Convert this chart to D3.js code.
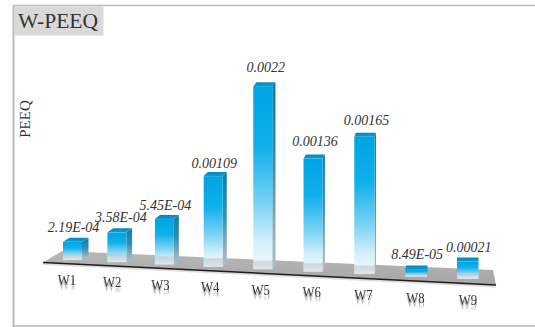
<!DOCTYPE html>
<html>
<head>
<meta charset="utf-8">
<title>W-PEEQ</title>
<script src="https://cdnjs.cloudflare.com/ajax/libs/d3/7.8.5/d3.min.js"></script>
<style>
  html, body { margin: 0; padding: 0; background: #fff; }
  svg { display: block; }
  text { font-family: "Liberation Serif", "Times New Roman", serif; }
</style>
</head>
<body>
<svg id="chart" width="535" height="327"></svg>
<script>
// Chart content
const chartTitle = "W-PEEQ";
const axisTitle = "PEEQ";
const categories = ["W1", "W2", "W3", "W4", "W5", "W6", "W7", "W8", "W9"];
const values = [2.19e-4, 3.58e-4, 5.45e-4, 0.00109, 0.0022, 0.00136, 0.00165, 8.49e-5, 0.00021];
const valueLabels = ["2.19E-04", "3.58E-04", "5.45E-04", "0.00109", "0.0022", "0.00136", "0.00165", "8.49E-05", "0.00021"];

// Layout tweaks for the value labels (px above the bar, px right of its centre)
const labelLift = [6, 6, 5, 4, 10, 8, 8, 6, 6];
const labelShift = [1, 4, 1, 1, 3, 2, 2, 1, 1];

const svg = d3.select("#chart");
const defs = svg.append("defs");

// Perspective placement along the tilted floor
const index = categories.map((_, i) => i);
const xBar = d3.scalePow().exponent(1.05).domain([0, 8]).range([63, 457]);
const xCategory = xBar.copy().range([67, 468]);
const barWidth = d3.scaleLinear().domain([0, 5, 7]).range([19, 19, 21.5]).clamp(true);
const baseline = d3.scaleLinear().domain([63, 457]).range([260, 279]);
const sideDepth = d3.scaleLinear().domain([63, 440]).range([6.5, 0]).clamp(true);
const frontEdge = d3.scaleLinear().domain([43, 496]).range([262.5, 285]);
const backEdge = d3.scaleLinear().domain([62, 493]).range([251, 270]);
const barHeight = d3.scaleLinear().domain([0, 0.0022]).range([0, 183]);
const topDepth = 4;

function linearGradient(id, stops, x2 = 0, y2 = 1) {
  const g = defs.append("linearGradient").attr("id", id)
    .attr("x1", 0).attr("y1", 0).attr("x2", x2).attr("y2", y2);
  stops.forEach(s => g.append("stop")
    .attr("offset", s[0]).attr("stop-color", s[1]).attr("stop-opacity", s[2] ?? 1));
}

linearGradient("frontFill", [
  [0, "#00a4e2"], [0.33, "#0db0ea"], [0.64, "#79d2f5"], [0.85, "#d3f0fb"], [1, "#f0fafd"]
]);
linearGradient("sideFill", [
  [0, "#0b7ea8"], [0.45, "#2f8fb3"], [0.8, "#8fb0bd"], [1, "#b4bec3"]
]);
linearGradient("topFill", [[0, "#0786b8"], [1, "#0a9dd4"]]);
linearGradient("floorFill", [[0, "#b8b8b8"], [1, "#a6a6a6"]]);
linearGradient("footFill", [[0, "#c4c9cb", 0.25], [0.2, "#b9bfc2", 0.55], [1, "#d8dcde", 0.65]]);

// Soft smear under the category labels
const smear = defs.append("filter").attr("id", "labelSmear")
  .attr("x", "-20%").attr("y", "-20%").attr("width", "140%").attr("height", "170%");
smear.append("feGaussianBlur").attr("in", "SourceAlpha").attr("stdDeviation", "0.4 1").attr("result", "soft");
smear.append("feOffset").attr("in", "soft").attr("dy", 4).attr("result", "moved");
smear.append("feFlood").attr("flood-color", "#444").attr("flood-opacity", 0.45);
smear.append("feComposite").attr("in2", "moved").attr("operator", "in").attr("result", "shade");
const smearMerge = smear.append("feMerge");
smearMerge.append("feMergeNode").attr("in", "shade");
smearMerge.append("feMergeNode").attr("in", "SourceGraphic");

// Frame: the chart area is open on the right
const frame = svg.append("g").attr("stroke", "#b9b9b9").attr("fill", "none");
frame.append("line").attr("x1", 13.5).attr("x2", 535).attr("y1", 5.5).attr("y2", 5.5).attr("stroke-width", 1.5);
frame.append("line").attr("x1", 13.5).attr("x2", 535).attr("y1", 326).attr("y2", 326).attr("stroke-width", 1.5);
frame.append("line").attr("x1", 13.5).attr("x2", 13.5).attr("y1", 5).attr("y2", 327).attr("stroke-width", 2);

// Title plate
svg.append("rect").attr("x", 14.5).attr("y", 6.5).attr("width", 89).attr("height", 29).attr("fill", "#d9d9d9");
svg.append("text").attr("x", 18).attr("y", 27.5)
  .attr("font-size", 21.5).attr("fill", "#333").text(chartTitle);

// Axis title
svg.append("text")
  .attr("transform", "translate(30,119) rotate(-90)")
  .attr("text-anchor", "middle").attr("font-size", 15).attr("fill", "#333")
  .text(axisTitle);

// Floor slab
const floorLine = d3.line();
svg.append("path")
  .attr("d", floorLine([
    [43, frontEdge(43)], [62, backEdge(62)], [493, backEdge(493)], [496, frontEdge(496)]
  ]) + "Z")
  .attr("fill", "url(#floorFill)");
svg.append("path")
  .attr("d", floorLine([[43, frontEdge(43) + 1.5], [496, frontEdge(496) + 1.5]]))
  .attr("stroke", "#bbb").attr("stroke-width", 2).attr("opacity", 0.5);
svg.append("path")
  .attr("d", floorLine([[43, frontEdge(43)], [496, frontEdge(496)]]))
  .attr("stroke", "#1c1c1c").attr("stroke-width", 1.5).attr("fill", "none");

// Bars: front, side and top faces
const bars = svg.append("g").selectAll("g").data(index).join("g");

const geom = i => {
  const x0 = xBar(i), w = barWidth(i), y1 = baseline(x0), h = barHeight(values[i]);
  return { x0, x1: x0 + w, w, y1, y0: y1 - h, h, d: sideDepth(x0) };
};

bars.append("path")
  .attr("d", i => {
    const g = geom(i);
    return floorLine([
      [g.x1, g.y0], [g.x1 + g.d, g.y0 - topDepth], [g.x1 + g.d, g.y1 - topDepth], [g.x1, g.y1]
    ]) + "Z";
  })
  .attr("fill", "url(#sideFill)");

bars.append("path")
  .attr("d", i => {
    const g = geom(i);
    return floorLine([
      [g.x0, g.y0], [g.x0 + g.d, g.y0 - topDepth], [g.x1 + g.d, g.y0 - topDepth], [g.x1, g.y0]
    ]) + "Z";
  })
  .attr("fill", "url(#topFill)");

bars.append("rect")
  .attr("x", i => geom(i).x0)
  .attr("y", i => geom(i).y0)
  .attr("width", i => geom(i).w)
  .attr("height", i => geom(i).h)
  .attr("fill", "url(#frontFill)");

// Translucent foot where each bar meets the floor
bars.append("rect")
  .attr("x", i => geom(i).x0)
  .attr("y", i => geom(i).y1 - Math.min(9, geom(i).h * 0.35))
  .attr("width", i => geom(i).w)
  .attr("height", i => Math.min(9, geom(i).h * 0.35))
  .attr("fill", "url(#footFill)");

// Value labels
svg.append("g").selectAll("text").data(index).join("text")
  .attr("x", i => xBar(i) + barWidth(i) / 2 + labelShift[i])
  .attr("y", i => geom(i).y0 - topDepth - labelLift[i])
  .attr("text-anchor", "middle")
  .attr("font-size", 14)
  .attr("font-style", "italic")
  .attr("fill", "#333")
  .text(i => valueLabels[i]);

// Category labels, narrowed slightly and smeared downward
const catY = i => frontEdge(xCategory(i)) + 21.5;
svg.append("g").selectAll("text").data(index).join("text")
  .attr("transform", i => `translate(${xCategory(i)},${catY(i)}) scale(0.85,1)`)
  .attr("text-anchor", "middle").attr("font-size", 15)
  .attr("fill", "#333")
  .attr("filter", "url(#labelSmear)")
  .text(i => categories[i]);
</script>
</body>
</html>
